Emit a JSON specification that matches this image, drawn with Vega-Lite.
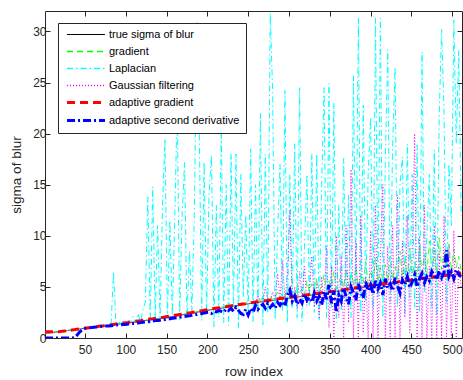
{
"$schema":"https://vega.github.io/schema/vega-lite/v6.json",
"width":417,"height":327,
"autosize":{"type":"none"},
"padding":{"left":45,"top":11,"right":1,"bottom":42},
"background":"white",
"config":{
"font":"Liberation Sans",
"view":{"stroke":"#262626","strokeWidth":1},
"axis":{"grid":false,"domain":false,"tickColor":"#262626","tickSize":-5,"labelColor":"#262626","labelFont":"Liberation Sans","labelFontSize":12,"titleFont":"Liberation Sans","titleFontSize":13.5,"titleColor":"#262626","titleFontWeight":"normal"},
"legend":{"orient":"none","legendX":13,"legendY":12,"title":null,"fillColor":"#ffffff","strokeColor":"#262626","padding":6,"symbolType":"M-0.45,0H6.45","symbolSize":121,"labelOffset":34,"labelFont":"Liberation Sans","labelFontSize":11,"labelColor":"#000000","rowPadding":5,"labelLimit":300}
},
"data":{"values":[
{"x":1,"t":0.45,"a":0.6,"d":0,"g":0.47,"f":0.44,"l":0.46},
{"x":4,"t":0.48,"a":0.6,"d":0,"g":0.5,"f":0.47,"l":0.5},
{"x":7,"t":0.51,"a":0.6,"d":0,"g":0.52,"f":0.5,"l":0.53},
{"x":10,"t":0.54,"a":0.6,"d":0,"g":0.55,"f":0.53,"l":0.52},
{"x":13,"t":0.57,"a":0.61,"d":0,"g":0.58,"f":0.56,"l":0.6},
{"x":16,"t":0.6,"a":0.62,"d":0,"g":0.61,"f":0.59,"l":0.62},
{"x":19,"t":0.63,"a":0.63,"d":0,"g":0.64,"f":0.62,"l":0.65},
{"x":22,"t":0.66,"a":0.65,"d":0,"g":0.67,"f":0.65,"l":0.7},
{"x":25,"t":0.69,"a":0.68,"d":0,"g":0.7,"f":0.68,"l":0.66},
{"x":28,"t":0.72,"a":0.71,"d":0,"g":0.73,"f":0.71,"l":0.75},
{"x":31,"t":0.75,"a":0.74,"d":0,"g":0.76,"f":0.74,"l":0.78},
{"x":34,"t":0.78,"a":0.78,"d":0,"g":0.79,"f":0.77,"l":0.8},
{"x":37,"t":0.81,"a":0.82,"d":0.02,"g":0.82,"f":0.8,"l":0.85},
{"x":40,"t":0.85,"a":0.86,"d":0.25,"g":0.86,"f":0.84,"l":0.88},
{"x":43,"t":0.88,"a":0.89,"d":0.55,"g":0.89,"f":0.87,"l":0.9},
{"x":46,"t":0.91,"a":0.92,"d":0.75,"g":0.92,"f":0.9,"l":0.95},
{"x":49,"t":0.94,"a":0.95,"d":0.9,"g":0.95,"f":0.93,"l":0.97},
{"x":52,"t":0.97,"a":0.98,"d":0.97,"g":0.98,"f":0.96,"l":1.02},
{"x":55,"t":1.0,"a":1.01,"d":1.0,"g":1.02,"f":0.99,"l":1.05},
{"x":58,"t":1.03,"a":1.04,"d":1.02,"g":1.04,"f":1.02,"l":1.0},
{"x":61,"t":1.06,"a":1.08,"d":1.05,"g":1.07,"f":1.05,"l":1.12},
{"x":64,"t":1.09,"a":1.11,"d":1.08,"g":1.1,"f":1.08,"l":1.15},
{"x":67,"t":1.12,"a":1.14,"d":1.1,"g":1.13,"f":1.11,"l":1.1},
{"x":70,"t":1.15,"a":1.17,"d":1.13,"g":1.16,"f":1.14,"l":1.22},
{"x":73,"t":1.18,"a":1.2,"d":1.15,"g":1.19,"f":1.17,"l":1.25},
{"x":76,"t":1.21,"a":1.24,"d":1.17,"g":1.22,"f":1.2,"l":1.18},
{"x":79,"t":1.24,"a":1.27,"d":1.18,"g":1.25,"f":1.23,"l":1.35},
{"x":82,"t":1.27,"a":1.3,"d":1.2,"g":1.28,"f":1.26,"l":1.4},
{"x":85,"t":1.3,"a":1.33,"d":1.24,"g":1.31,"f":1.29,"l":6.5},
{"x":88,"t":1.33,"a":1.36,"d":1.27,"g":1.34,"f":1.32,"l":1.3},
{"x":91,"t":1.36,"a":1.4,"d":1.29,"g":1.37,"f":1.35,"l":1.5},
{"x":94,"t":1.39,"a":1.43,"d":1.3,"g":1.4,"f":1.38,"l":1.45},
{"x":97,"t":1.42,"a":1.46,"d":1.32,"g":1.43,"f":1.41,"l":1.62},
{"x":100,"t":1.45,"a":1.49,"d":1.33,"g":1.46,"f":1.44,"l":1.4},
{"x":103,"t":1.48,"a":1.52,"d":1.36,"g":1.5,"f":1.47,"l":1.75},
{"x":106,"t":1.52,"a":1.56,"d":1.4,"g":1.53,"f":1.51,"l":1.55},
{"x":109,"t":1.55,"a":1.6,"d":1.42,"g":1.56,"f":1.54,"l":2.1},
{"x":112,"t":1.58,"a":1.63,"d":1.44,"g":1.6,"f":1.57,"l":1.5},
{"x":115,"t":1.62,"a":1.67,"d":1.47,"g":1.64,"f":1.61,"l":2.4},
{"x":118,"t":1.65,"a":1.7,"d":1.52,"g":1.66,"f":1.64,"l":1.45},
{"x":121,"t":1.68,"a":1.74,"d":1.55,"g":1.7,"f":1.67,"l":2.8},
{"x":124,"t":1.71,"a":1.78,"d":1.57,"g":1.73,"f":1.7,"l":3.5},
{"x":127,"t":1.75,"a":1.82,"d":1.6,"g":1.77,"f":1.74,"l":13.8},
{"x":130,"t":1.78,"a":1.85,"d":1.62,"g":1.8,"f":1.77,"l":1.3},
{"x":133,"t":1.81,"a":1.88,"d":1.66,"g":1.84,"f":1.8,"l":14.8},
{"x":136,"t":1.85,"a":1.92,"d":1.7,"g":1.88,"f":1.84,"l":2.0},
{"x":139,"t":1.88,"a":1.95,"d":1.72,"g":1.9,"f":1.87,"l":11.0},
{"x":142,"t":1.91,"a":1.98,"d":1.74,"g":1.94,"f":1.9,"l":1.6},
{"x":145,"t":1.94,"a":2.02,"d":1.78,"g":1.97,"f":1.93,"l":13.0},
{"x":148,"t":1.98,"a":2.06,"d":1.8,"g":2.02,"f":1.97,"l":19.5},
{"x":151,"t":2.01,"a":2.1,"d":1.84,"g":2.05,"f":2.0,"l":1.9},
{"x":154,"t":2.06,"a":2.14,"d":1.88,"g":2.1,"f":2.05,"l":11.5},
{"x":157,"t":2.1,"a":2.18,"d":1.92,"g":2.14,"f":2.09,"l":2.2},
{"x":160,"t":2.14,"a":2.22,"d":1.96,"g":2.18,"f":2.13,"l":11.7},
{"x":163,"t":2.18,"a":2.26,"d":2.0,"g":2.22,"f":2.17,"l":23.0},
{"x":166,"t":2.22,"a":2.3,"d":2.02,"g":2.27,"f":2.21,"l":1.8},
{"x":169,"t":2.27,"a":2.34,"d":2.08,"g":2.31,"f":2.26,"l":12.0},
{"x":172,"t":2.31,"a":2.38,"d":2.1,"g":2.36,"f":2.3,"l":17.2},
{"x":175,"t":2.35,"a":2.42,"d":2.15,"g":2.4,"f":2.34,"l":1.9},
{"x":178,"t":2.39,"a":2.46,"d":2.18,"g":2.44,"f":2.38,"l":8.5},
{"x":181,"t":2.43,"a":2.5,"d":2.22,"g":2.48,"f":2.42,"l":2.6},
{"x":184,"t":2.48,"a":2.55,"d":2.28,"g":2.53,"f":2.47,"l":12.0},
{"x":187,"t":2.52,"a":2.59,"d":2.3,"g":2.58,"f":2.51,"l":31.0},
{"x":190,"t":2.56,"a":2.63,"d":2.36,"g":2.62,"f":2.55,"l":20.6},
{"x":193,"t":2.6,"a":2.68,"d":2.4,"g":2.66,"f":2.59,"l":1.7},
{"x":196,"t":2.64,"a":2.72,"d":2.45,"g":2.7,"f":2.63,"l":17.2},
{"x":199,"t":2.69,"a":2.76,"d":2.5,"g":2.76,"f":2.68,"l":2.3},
{"x":202,"t":2.73,"a":2.8,"d":2.52,"g":2.8,"f":2.72,"l":14.0},
{"x":205,"t":2.77,"a":2.84,"d":2.4,"g":2.9,"f":2.76,"l":17.9},
{"x":208,"t":2.81,"a":2.88,"d":2.62,"g":2.86,"f":2.8,"l":1.1},
{"x":211,"t":2.85,"a":2.92,"d":2.55,"g":3.0,"f":2.84,"l":13.0},
{"x":214,"t":2.88,"a":2.95,"d":2.7,"g":2.95,"f":2.87,"l":2.0},
{"x":217,"t":2.92,"a":2.98,"d":2.6,"g":3.1,"f":2.91,"l":20.5},
{"x":220,"t":2.96,"a":3.02,"d":2.5,"g":3.05,"f":2.95,"l":1.5},
{"x":223,"t":3.0,"a":3.06,"d":2.85,"g":3.2,"f":2.99,"l":15.0},
{"x":226,"t":3.04,"a":3.1,"d":2.7,"g":3.5,"f":3.1,"l":1.2},
{"x":229,"t":3.08,"a":3.14,"d":2.9,"g":3.15,"f":3.06,"l":18.0},
{"x":232,"t":3.12,"a":3.18,"d":2.6,"g":3.3,"f":3.11,"l":3.0},
{"x":235,"t":3.15,"a":3.22,"d":3.0,"g":3.25,"f":3.14,"l":18.0},
{"x":238,"t":3.19,"a":3.26,"d":2.7,"g":3.4,"f":3.18,"l":1.0},
{"x":241,"t":3.23,"a":3.3,"d":2.4,"g":3.35,"f":3.22,"l":16.0},
{"x":244,"t":3.27,"a":3.33,"d":2.3,"g":3.6,"f":3.3,"l":4.0},
{"x":247,"t":3.31,"a":3.36,"d":2.8,"g":3.4,"f":3.29,"l":12.0},
{"x":250,"t":3.35,"a":3.4,"d":2.25,"g":3.7,"f":3.34,"l":2.2},
{"x":253,"t":3.38,"a":3.44,"d":2.9,"g":3.45,"f":3.37,"l":18.5},
{"x":256,"t":3.42,"a":3.48,"d":2.5,"g":3.6,"f":3.45,"l":1.6},
{"x":259,"t":3.45,"a":3.52,"d":3.2,"g":3.55,"f":3.44,"l":15.0},
{"x":262,"t":3.48,"a":3.55,"d":2.8,"g":3.9,"f":4.2,"l":2.5},
{"x":265,"t":3.52,"a":3.58,"d":3.1,"g":3.6,"f":3.51,"l":22.0},
{"x":268,"t":3.55,"a":3.62,"d":3.3,"g":4.1,"f":3.54,"l":1.3},
{"x":271,"t":3.58,"a":3.65,"d":2.9,"g":3.7,"f":5.0,"l":18.0},
{"x":274,"t":3.61,"a":3.68,"d":3.4,"g":3.8,"f":3.6,"l":2.4},
{"x":277,"t":3.65,"a":3.72,"d":3.0,"g":4.2,"f":3.64,"l":31.8},
{"x":280,"t":3.68,"a":3.75,"d":3.3,"g":3.75,"f":4.5,"l":24.0},
{"x":283,"t":3.71,"a":3.78,"d":2.9,"g":4.0,"f":3.7,"l":1.8},
{"x":286,"t":3.75,"a":3.82,"d":3.5,"g":4.5,"f":6.3,"l":10.0},
{"x":289,"t":3.78,"a":3.86,"d":3.2,"g":3.9,"f":3.77,"l":17.0},
{"x":292,"t":3.81,"a":3.89,"d":3.6,"g":4.4,"f":7.5,"l":2.6},
{"x":295,"t":3.85,"a":3.92,"d":3.1,"g":4.0,"f":3.84,"l":24.2},
{"x":298,"t":3.88,"a":3.96,"d":4.2,"g":5.0,"f":6.0,"l":1.5},
{"x":301,"t":3.91,"a":3.99,"d":4.7,"g":4.2,"f":12.5,"l":16.0},
{"x":304,"t":3.94,"a":4.02,"d":3.6,"g":4.8,"f":3.5,"l":3.0},
{"x":307,"t":3.98,"a":4.06,"d":4.1,"g":4.3,"f":5.0,"l":19.0},
{"x":310,"t":4.01,"a":4.09,"d":3.3,"g":5.2,"f":2.8,"l":2.0},
{"x":313,"t":4.04,"a":4.12,"d":3.8,"g":4.4,"f":6.5,"l":24.5},
{"x":316,"t":4.08,"a":4.15,"d":3.4,"g":4.9,"f":3.8,"l":1.6},
{"x":319,"t":4.11,"a":4.18,"d":4.3,"g":4.3,"f":7.0,"l":9.0},
{"x":322,"t":4.14,"a":4.22,"d":3.7,"g":5.6,"f":3.2,"l":16.0},
{"x":325,"t":4.18,"a":4.25,"d":4.0,"g":4.6,"f":4.8,"l":3.2},
{"x":328,"t":4.21,"a":4.28,"d":3.5,"g":5.3,"f":8.0,"l":18.0},
{"x":331,"t":4.24,"a":4.32,"d":4.4,"g":4.5,"f":3.0,"l":2.5},
{"x":334,"t":4.27,"a":4.35,"d":3.6,"g":5.8,"f":5.5,"l":18.0},
{"x":337,"t":4.31,"a":4.39,"d":4.1,"g":4.6,"f":2.0,"l":1.8},
{"x":340,"t":4.34,"a":4.42,"d":3.2,"g":5.0,"f":6.0,"l":15.0},
{"x":343,"t":4.37,"a":4.45,"d":4.6,"g":6.2,"f":3.5,"l":24.5},
{"x":346,"t":4.41,"a":4.48,"d":3.8,"g":4.7,"f":9.0,"l":2.0},
{"x":349,"t":4.44,"a":4.52,"d":5.2,"g":5.6,"f":1.0,"l":24.9},
{"x":352,"t":4.47,"a":4.55,"d":3.4,"g":4.9,"f":7.0,"l":3.0},
{"x":355,"t":4.51,"a":4.58,"d":4.6,"g":6.5,"f":0.0,"l":23.0},
{"x":358,"t":4.55,"a":4.62,"d":2.5,"g":4.8,"f":10.0,"l":1.5},
{"x":361,"t":4.58,"a":4.66,"d":4.2,"g":5.5,"f":2.0,"l":13.0},
{"x":364,"t":4.62,"a":4.7,"d":3.6,"g":6.0,"f":8.0,"l":2.8},
{"x":367,"t":4.65,"a":4.73,"d":4.9,"g":4.9,"f":0.0,"l":17.6},
{"x":370,"t":4.69,"a":4.77,"d":4.0,"g":6.8,"f":11.0,"l":3.5},
{"x":373,"t":4.73,"a":4.81,"d":3.3,"g":5.1,"f":1.5,"l":14.0},
{"x":376,"t":4.76,"a":4.84,"d":5.0,"g":6.4,"f":16.5,"l":2.0},
{"x":379,"t":4.8,"a":4.88,"d":4.4,"g":5.2,"f":0.0,"l":25.7},
{"x":382,"t":4.83,"a":4.91,"d":3.7,"g":7.0,"f":9.5,"l":4.0},
{"x":385,"t":4.87,"a":4.95,"d":5.3,"g":5.0,"f":0.0,"l":31.3},
{"x":388,"t":4.91,"a":4.99,"d":4.5,"g":6.2,"f":12.0,"l":2.5},
{"x":391,"t":4.94,"a":5.02,"d":3.9,"g":5.4,"f":0.5,"l":22.8},
{"x":394,"t":4.98,"a":5.06,"d":5.5,"g":7.5,"f":6.0,"l":3.5},
{"x":397,"t":5.01,"a":5.09,"d":4.6,"g":5.3,"f":0.0,"l":16.0},
{"x":400,"t":5.05,"a":5.13,"d":5.2,"g":6.6,"f":10.5,"l":21.6},
{"x":403,"t":5.08,"a":5.16,"d":4.3,"g":5.4,"f":0.0,"l":2.8},
{"x":406,"t":5.12,"a":5.2,"d":5.6,"g":7.8,"f":13.0,"l":31.3},
{"x":409,"t":5.15,"a":5.23,"d":4.8,"g":5.5,"f":0.0,"l":4.0},
{"x":412,"t":5.18,"a":5.26,"d":5.4,"g":6.9,"f":8.0,"l":31.3},
{"x":415,"t":5.22,"a":5.3,"d":4.2,"g":5.6,"f":15.0,"l":2.0},
{"x":418,"t":5.25,"a":5.33,"d":5.8,"g":7.2,"f":0.0,"l":17.0},
{"x":421,"t":5.28,"a":5.36,"d":4.9,"g":5.6,"f":9.0,"l":28.2},
{"x":424,"t":5.31,"a":5.39,"d":5.3,"g":8.0,"f":0.0,"l":3.5},
{"x":427,"t":5.35,"a":5.43,"d":4.6,"g":5.7,"f":11.0,"l":19.0},
{"x":430,"t":5.38,"a":5.46,"d":5.9,"g":7.0,"f":0.0,"l":26.5},
{"x":433,"t":5.41,"a":5.49,"d":5.1,"g":5.8,"f":14.0,"l":3.0},
{"x":436,"t":5.45,"a":5.53,"d":4.4,"g":8.5,"f":0.0,"l":15.0},
{"x":439,"t":5.48,"a":5.56,"d":5.7,"g":6.0,"f":9.5,"l":17.7},
{"x":442,"t":5.51,"a":5.59,"d":5.2,"g":7.6,"f":2.0,"l":2.5},
{"x":445,"t":5.55,"a":5.62,"d":6.0,"g":5.9,"f":12.0,"l":19.0},
{"x":448,"t":5.58,"a":5.66,"d":4.9,"g":8.8,"f":0.5,"l":4.0},
{"x":451,"t":5.61,"a":5.69,"d":5.5,"g":6.2,"f":8.0,"l":16.0},
{"x":454,"t":5.64,"a":5.72,"d":6.2,"g":7.4,"f":20.0,"l":3.0},
{"x":457,"t":5.68,"a":5.76,"d":5.0,"g":6.0,"f":0.0,"l":18.9},
{"x":460,"t":5.71,"a":5.79,"d":5.8,"g":9.0,"f":10.0,"l":2.6},
{"x":463,"t":5.74,"a":5.82,"d":6.3,"g":6.4,"f":0.0,"l":28.0},
{"x":466,"t":5.78,"a":5.86,"d":5.4,"g":8.2,"f":13.0,"l":4.5},
{"x":469,"t":5.81,"a":5.89,"d":6.0,"g":6.3,"f":0.0,"l":10.0},
{"x":472,"t":5.84,"a":5.92,"d":5.6,"g":9.5,"f":7.0,"l":16.0},
{"x":475,"t":5.87,"a":5.95,"d":6.5,"g":6.6,"f":0.0,"l":3.0},
{"x":478,"t":5.91,"a":5.99,"d":6.1,"g":8.6,"f":11.0,"l":18.4},
{"x":481,"t":5.94,"a":6.02,"d":5.7,"g":6.4,"f":0.0,"l":2.2},
{"x":484,"t":5.97,"a":6.05,"d":6.6,"g":9.8,"f":8.5,"l":21.5},
{"x":487,"t":6.01,"a":6.09,"d":5.9,"g":6.7,"f":0.0,"l":30.2},
{"x":490,"t":6.04,"a":6.12,"d":6.4,"g":8.4,"f":12.0,"l":22.0},
{"x":493,"t":6.07,"a":6.15,"d":8.6,"g":6.8,"f":0.0,"l":3.5},
{"x":496,"t":6.1,"a":6.18,"d":6.0,"g":9.2,"f":9.0,"l":17.0},
{"x":499,"t":6.14,"a":6.22,"d":6.5,"g":6.5,"f":0.0,"l":11.0},
{"x":502,"t":6.17,"a":6.25,"d":5.8,"g":8.7,"f":10.5,"l":31.1},
{"x":505,"t":6.2,"a":6.28,"d":6.7,"g":6.9,"f":0.0,"l":19.0},
{"x":508,"t":6.24,"a":6.32,"d":6.2,"g":8.0,"f":7.0,"l":28.2},
{"x":511,"t":6.27,"a":6.35,"d":6.0,"g":6.6,"f":5.0,"l":12.0}
]},
"transform":[{"fold":["t","g","l","f","a","d"],"as":["s","v"]}],
"encoding":{
"x":{"field":"x","type":"quantitative","scale":{"domain":[1,512],"nice":false,"zero":false},"axis":null},
"y":{"field":"v","type":"quantitative","scale":{"domain":[0,32],"nice":false,"zero":false},"axis":null},
"color":{"field":"s","type":"ordinal","scale":{"domain":["t","g","l","f","a","d"],"range":["#000000","#00ff00","#00ffff","#ff00ff","#ff0000","#0000ff"]},
"legend":{"labelExpr":"{'t':'true sigma of blur','g':'gradient','l':'Laplacian','f':'Gaussian filtering','a':'adaptive gradient','d':'adaptive second derivative'}[datum.label]","encode":{"symbols":{"update":{"stroke":{"signal":"{'t':'#000000','g':'#00ff00','l':'#00ffff','f':'#ff00ff','a':'#ff0000','d':'#0000ff'}[datum.value]"},"opacity":{"value":1},"strokeWidth":{"signal":"indexof(['a','d'], datum.value) >= 0 ? 3 : (datum.value === 't' ? 1 : 1.4)"},"strokeDash":{"signal":"{'t':[1,0],'g':[6,4],'l':[6,3,1.5,3],'f':[1,2],'a':[8,5],'d':[8,3,2,3]}[datum.value]"}}}}}},
"strokeDash":{"field":"s","type":"ordinal","scale":{"domain":["t","g","l","f","a","d"],"range":[[1,0],[6,4],[6,3,1.5,3],[1,2],[8,5],[8,3,2,3]]},"legend":null}
},
"resolve":{"axis":{"x":"independent","y":"independent"}},
"layer":[
{"transform":[{"filter":"datum.s==='t'"}],"mark":{"type":"line","clip":true,"strokeWidth":0.75},
"encoding":{
"x":{"field":"x","type":"quantitative","scale":{"domain":[1,512],"nice":false,"zero":false},"axis":{"orient":"bottom","values":[50,100,150,200,250,300,350,400,450,500],"title":"row index","labelPadding":11,"titlePadding":9}},
"y":{"field":"v","type":"quantitative","scale":{"domain":[0,32],"nice":false,"zero":false},"axis":{"orient":"left","values":[0,5,10,15,20,25,30],"title":"sigma of blur","labelPadding":4,"titlePadding":9}}}},
{"transform":[{"filter":"datum.s==='g'"}],"mark":{"type":"line","clip":true,"strokeWidth":0.75},
"encoding":{
"x":{"field":"x","type":"quantitative","scale":{"domain":[1,512],"nice":false,"zero":false},"axis":{"orient":"top","values":[50,100,150,200,250,300,350,400,450,500],"labels":false,"title":null}},
"y":{"field":"v","type":"quantitative","scale":{"domain":[0,32],"nice":false,"zero":false},"axis":{"orient":"right","values":[0,5,10,15,20,25,30],"labels":false,"title":null}}}},
{"transform":[{"filter":"datum.s==='l'"}],"mark":{"type":"line","clip":true,"strokeWidth":1}},
{"transform":[{"filter":"datum.s==='f'"}],"mark":{"type":"line","clip":true,"strokeWidth":1}},
{"transform":[{"filter":"datum.s==='a'"}],"mark":{"type":"line","clip":true,"strokeWidth":3}},
{"transform":[{"filter":"datum.s==='d'"}],"mark":{"type":"line","clip":true,"strokeWidth":3}}
]
}
